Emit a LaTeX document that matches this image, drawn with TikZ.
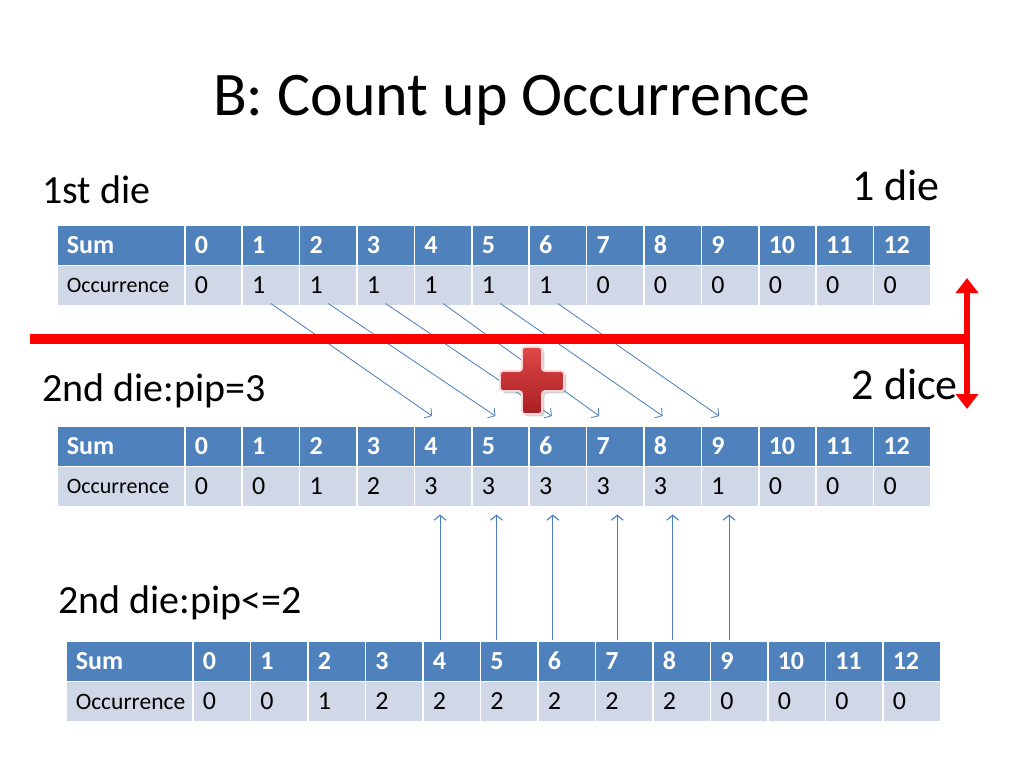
\documentclass[tikz,border=0pt]{standalone}
\usepackage{fontspec}
\setmainfont{Carlito}
\usetikzlibrary{arrows.meta,shadows}

\definecolor{hdblue}{HTML}{4F81BD}
\definecolor{rowblue}{HTML}{D0D8E8}
\definecolor{linkblue}{HTML}{4A7EBB}
\definecolor{plustop}{HTML}{E04848}
\definecolor{plusbot}{HTML}{A81E22}

\tikzset{
  hdcell/.style={draw=white, line width=1.5pt, fill=hdblue, anchor=north west,
    minimum height=40.5pt, inner xsep=10pt, inner ysep=0pt, align=left,
    text=white, font=\fontsize{26}{28}\selectfont\bfseries},
  occell/.style={hdcell, fill=rowblue, text=black, font=\fontsize{26}{28}\selectfont},
  lbl/.style={inner sep=0pt, font=\fontsize{40}{44}\selectfont},
  link/.style={draw=linkblue, line width=0.8pt, -{Straight Barb[length=5pt,width=12pt]}},
  uplink/.style={link, line width=1.1pt},
}

\begin{document}
\begin{tikzpicture}[x=1pt, y=-1pt]

\useasboundingbox (0,0) rectangle (1024,768);
\fill[white] (0,0) rectangle (1024,768);

\def\hrow{40.5} % row height

\def\xa{56}; % 1st die table
\def\ya{224};
\def\xb{56}; % 2nd die:pip=3 table
\def\yb{425};
\def\xc{65}; % 2nd die:pip<=2 table
\def\yc{640};

% titles and labels
\node[anchor=base, inner sep=0pt, font=\fontsize{62}{70}\selectfont] (title) at (512,115) {B: Count up Occurrence};
\node[lbl, anchor=base west] (first) at (42,203) {1st die};
\node[lbl, anchor=base east, font=\fontsize{44}{48}\selectfont] (onedie) at (940,200) {1 die};
\node[lbl, anchor=base west] (second) at (42,401) {2nd die:pip=3};
\node[lbl, anchor=base east, font=\fontsize{44}{48}\selectfont] (twodice) at (958,399) {2 dice};
\node[lbl, anchor=base west] (secondle) at (58,613) {2nd die:pip<=2};

% table a
\node[hdcell, text width=108pt] (a) at (\xa,\ya) {Sum};
\node[occell, text width=108pt, font=\fontsize{22}{24}\selectfont] (ao) at (\xa,\ya+\hrow) {Occurrence};
\foreach \v [count=\i from 0] in {0,1,1,1,1,1,1,0,0,0,0,0,0} {
  \node[hdcell, text width=37.4pt] (a\i) at (\xa+128+\i*57.4,\ya) {\i};
  \node[occell, text width=37.4pt] (ao\i) at (\xa+128+\i*57.4,\ya+\hrow) {\v};
}

% table b
\node[hdcell, text width=108pt] (b) at (\xb,\yb) {Sum};
\node[occell, text width=108pt, font=\fontsize{22}{24}\selectfont] (bo) at (\xb,\yb+\hrow) {Occurrence};
\foreach \v [count=\i from 0] in {0,0,1,2,3,3,3,3,3,1,0,0,0} {
  \node[hdcell, text width=37.4pt] (b\i) at (\xb+128+\i*57.4,\yb) {\i};
  \node[occell, text width=37.4pt] (bo\i) at (\xb+128+\i*57.4,\yb+\hrow) {\v};
}

% table c
\node[hdcell, text width=107pt] (c) at (\xc,\yc) {Sum};
\node[occell, text width=107pt, font=\fontsize{23.5}{25}\selectfont] (co) at (\xc,\yc+\hrow) {Occurrence};
\foreach \v [count=\i from 0] in {0,0,1,2,2,2,2,2,2,0,0,0,0} {
  \node[hdcell, text width=37.5pt] (c\i) at (\xc+127+\i*57.5,\yc) {\i};
  \node[occell, text width=37.5pt] (co\i) at (\xc+127+\i*57.5,\yc+\hrow) {\v};
}

% shift by pip=3
\foreach \s/\t/\dx in {1/4/-11, 2/5/-5, 3/6/-6, 4/7/-16, 5/8/-10, 6/9/-11}
  \draw[link] ([yshift=3pt]ao\s.south) -- ([xshift=\dx pt, yshift=9pt]b\t.north);

% carried up from pip<=2
\foreach \t/\dx in {4/-3, 5/-4, 6/-5, 7/2, 8/0, 9/-1}
  \draw[uplink] ([xshift=\dx pt]b\t |- c\t.north) -- ([xshift=\dx pt, yshift=-7pt]bo\t.south);

% red divider
\coordinate (barl) at (30,339);
\coordinate (barr) at (970,339);
\coordinate (updtop) at (967,278);
\coordinate (updbot) at (967,409);
\draw[red, line width=10pt] (barl) -- (barr);
\draw[red, line width=6pt, {Triangle[width=22pt,length=15pt]}-{Triangle[width=22pt,length=15pt]}] (updtop) -- (updbot);

% plus sign
\filldraw[rounded corners=3pt, draw=red!15!white, line width=1.8pt,
  top color=plustop, bottom color=plusbot, drop shadow={opacity=0.35}]
  (522,347) -- (542,347) -- (542,371) -- (564,371) -- (564,391) -- (542,391)
  -- (542,414) -- (522,414) -- (522,391) -- (500,391) -- (500,371) -- (522,371) -- cycle;

\end{tikzpicture}
\end{document}
